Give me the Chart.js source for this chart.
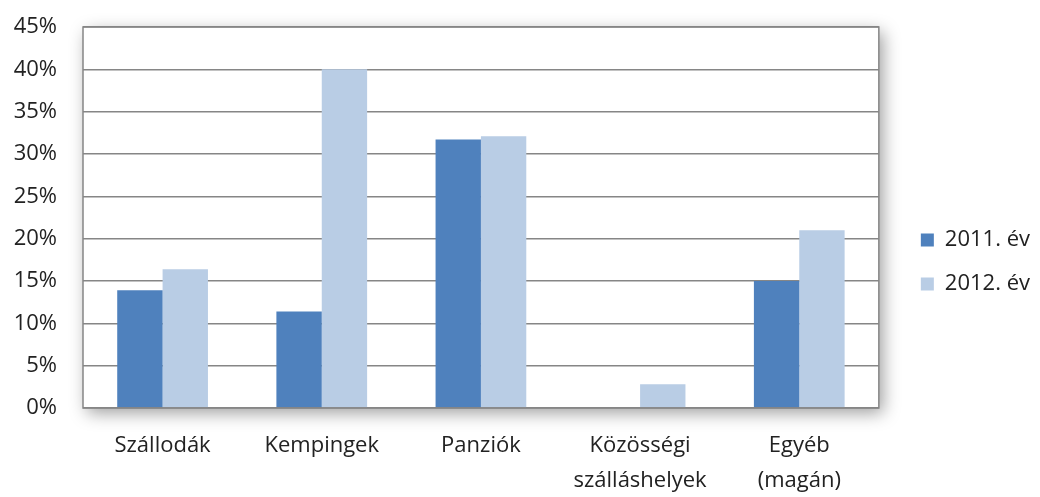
<!DOCTYPE html>
<html>
<head>
<meta charset="utf-8">
<script src="https://cdn.jsdelivr.net/npm/chart.js@4/dist/chart.umd.min.js"></script>
<style>
  html, body { margin: 0; padding: 0; background: #fff; }
  #wrap { width: 1040px; height: 497px; position: relative; }
</style>
</head>
<body>
<div id="wrap"><canvas id="myChart"></canvas></div>
<script>
var categories = ['Szállodák', 'Kempingek', 'Panziók', ['Közösségi', 'szálláshelyek'], ['Egyéb', '(magán)']];
var seriesNames = ['2011. év', '2012. év'];
var values2011 = [13.9, 11.4, 31.7, 0, 15.0];
var values2012 = [16.4, 40.0, 32.1, 2.8, 21.0];
var yTicks = [0, 5, 10, 15, 20, 25, 30, 35, 40, 45];

// soft shadow + border round the plot area, like the office chart
var plotShadow = {
    id: 'plotShadow',
    beforeDraw: function (chart) {
        var a = chart.chartArea, ctx = chart.ctx;
        ctx.save();
        ctx.shadowColor = 'rgba(0,0,0,0.38)';
        ctx.shadowBlur = 16;
        ctx.shadowOffsetX = 4;
        ctx.shadowOffsetY = 5;
        ctx.fillStyle = '#fff';
        ctx.fillRect(a.left, a.top, a.right - a.left, a.bottom - a.top);
        ctx.restore();
    },
    afterDatasetsDraw: function (chart) {
        var a = chart.chartArea, ctx = chart.ctx;
        ctx.save();
        ctx.strokeStyle = '#868686';
        ctx.lineWidth = 1.5;
        ctx.strokeRect(a.left, a.top, a.right - a.left, a.bottom - a.top);
        ctx.restore();
    }
};

const ctx = document.getElementById('myChart');
new Chart(ctx, {
    type: 'bar',
    data: {
        labels: categories,
        datasets: [
            { label: seriesNames[0], data: values2011, backgroundColor: '#4f81bd' },
            { label: seriesNames[1], data: values2012, backgroundColor: '#b9cde5' }
        ]
    },
    options: {
        responsive: true,
        maintainAspectRatio: false,
        animation: false,
        layout: { padding: { left: 0, right: 0, top: 27, bottom: 0 } },
        datasets: { bar: { categoryPercentage: 0.57, barPercentage: 1 } },
        plugins: {
            tooltip: { enabled: false },
            legend: {
                position: 'right',
                align: 'center',
                labels: {
                    color: '#222',
                    font: { family: 'Open Sans', size: 22 },
                    boxWidth: 13,
                    boxHeight: 13,
                    padding: 22
                }
            }
        },
        scales: {
            x: {
                grid: { display: false, drawTicks: false },
                border: { display: false },
                ticks: {
                    color: '#222',
                    font: { family: 'Open Sans', size: 22, lineHeight: 1.6 },
                    padding: 20,
                    maxRotation: 0
                },
                afterFit: function (s) { s.height = 89; }
            },
            y: {
                min: 0,
                max: 45,
                afterBuildTicks: function (axis) {
                    axis.ticks = yTicks.map(function (v) { return { value: v }; });
                },
                grid: { color: '#868686', lineWidth: 1.5, drawTicks: false },
                border: { display: false },
                ticks: {
                    color: '#222',
                    font: { family: 'Open Sans', size: 22 },
                    padding: 26,
                    callback: function (v) { return v + '%'; }
                },
                afterFit: function (s) { s.width = 83; s.paddingTop = 0; s.paddingBottom = 0; }
            },
            gap: {
                position: 'right',
                display: true,
                grid: { display: false, drawTicks: false },
                border: { display: false },
                ticks: { display: false },
                afterFit: function (s) { s.width = 20; s.paddingTop = 0; s.paddingBottom = 0; }
            }
        }
    },
    plugins: [plotShadow]
});
</script>
</body>
</html>
